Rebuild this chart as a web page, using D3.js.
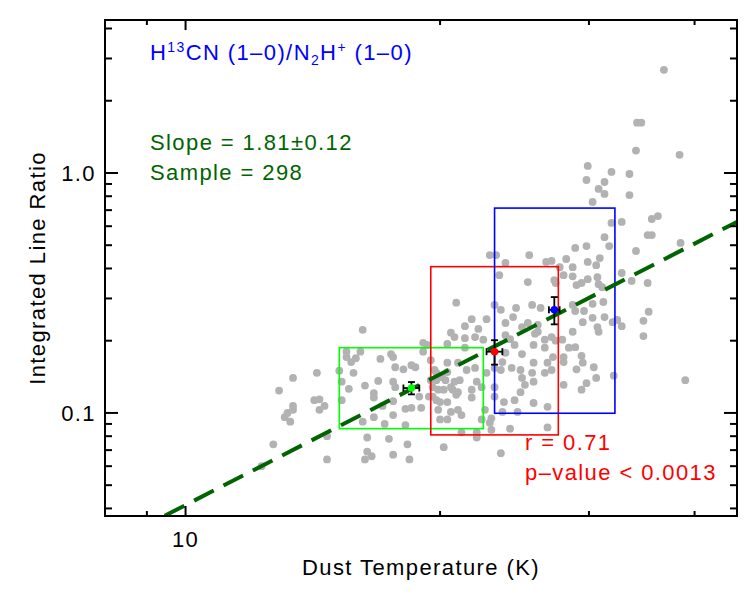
<!DOCTYPE html>
<html>
<head>
<meta charset="utf-8">
<script src="https://cdn.jsdelivr.net/npm/d3@7"></script>
<style>
  body { margin: 0; background: #fff; }
  text { font-family: "Liberation Sans", Arial, Helvetica, sans-serif; }
</style>
</head>
<body>
<div id="chart"></div>
<script>
// scatter sample: dust temperature (K) and H13CN/N2H+ integrated line ratio
var dustTemp = [
  12.3, 12.7, 12.9, 13.1, 13.2, 13.3, 13.4, 13.4, 13.4, 14.2, 14.4, 14.4, 14.6, 14.3, 14.7, 14.7,
  15.2, 15.3, 15.3, 15.5, 15.5, 15.7, 15.9, 16.1, 15.8, 15.6, 16.2, 16.3, 16.7, 16.7, 16.9, 17.0,
  17.5, 17.6, 17.7, 17.6, 17.7, 18.1, 18.5, 16.7, 16.2, 17.2, 17.6, 18.2, 17.1, 17.6, 18.2, 18.5,
  16.4, 17.4, 18.3, 16.4, 16.6, 16.3, 17.6, 18.4, 19.1, 19.3, 19.1, 18.7, 20.9, 21.8, 21.4, 22.2,
  22.7, 20.6, 20.8, 21.4, 20.4, 21.4, 22.0, 22.5, 20.4, 21.0, 20.4, 21.5, 22.0, 22.7, 19.8, 20.3,
  20.8, 21.1, 22.1, 19.6, 19.9, 20.2, 20.7, 21.0, 21.8, 22.4, 19.6, 19.8, 20.0, 20.4, 21.8, 23.2,
  23.2, 19.9, 20.6, 21.0, 22.6, 23.0, 22.4, 20.0, 20.4, 21.2, 22.1, 22.1, 23.0, 21.2, 20.2, 23.6,
  18.9, 19.0, 19.7, 19.5, 22.9, 23.3, 25.5, 23.9, 23.5, 25.4, 26.7, 27.1, 27.3, 27.4, 23.2, 23.6,
  24.6, 25.7, 26.3, 24.4, 23.9, 25.0, 26.1, 25.4, 26.1, 23.9, 24.2, 24.5, 25.9, 26.6, 27.1, 25.8,
  26.6, 25.0, 23.9, 23.7, 23.2, 23.6, 24.3, 24.9, 25.8, 26.8, 27.2, 26.6, 25.7, 25.0, 25.8, 27.1,
  23.8, 24.5, 24.9, 25.2, 24.7, 26.8, 26.8, 24.2, 27.7, 28.2, 28.7, 29.9, 30.6, 30.9, 28.0, 28.7,
  29.9, 30.7, 29.0, 29.4, 30.8, 31.1, 30.3, 31.2, 28.9, 29.6, 31.3, 29.5, 30.3, 32.0, 32.4, 32.8,
  30.7, 30.8, 28.7, 27.4, 27.9, 28.9, 28.4, 28.0, 28.0, 29.4, 29.5, 29.0, 30.4, 32.1, 30.6, 29.8,
  29.4, 28.0, 32.8, 33.7, 35.2, 35.3, 34.8, 34.8, 39.0, 34.1, 35.2, 35.6, 36.2, 35.6, 38.5, 32.8,
  31.9, 31.3, 31.7, 28.9, 29.8, 36.8, 34.2, 34.6, 34.1, 38.4, 29.9, 29.8, 31.9, 31.3, 33.5, 30.8,
  31.3, 33.5, 30.3, 28.7, 22.9, 23.7, 25.8, 19.8, 20.1, 20.6, 20.9, 19.4, 19.5
];
var lineRatio = [
  0.060, 0.074, 0.124, 0.096, 0.100, 0.092, 0.103, 0.107, 0.140, 0.113, 0.114, 0.103, 0.107, 0.147, 0.080, 0.064,
  0.150, 0.135, 0.113, 0.180, 0.171, 0.163, 0.169, 0.180, 0.147, 0.126, 0.222, 0.130, 0.121, 0.116, 0.136, 0.168,
  0.176, 0.171, 0.155, 0.135, 0.128, 0.152, 0.158, 0.096, 0.092, 0.090, 0.098, 0.089, 0.107, 0.112, 0.104, 0.105,
  0.079, 0.078, 0.074, 0.069, 0.066, 0.064, 0.067, 0.064, 0.196, 0.192, 0.180, 0.155, 0.288, 0.246, 0.230, 0.224,
  0.246, 0.216, 0.207, 0.205, 0.194, 0.187, 0.207, 0.202, 0.162, 0.162, 0.148, 0.151, 0.154, 0.147, 0.137, 0.137,
  0.135, 0.137, 0.135, 0.128, 0.125, 0.125, 0.125, 0.122, 0.125, 0.128, 0.117, 0.113, 0.111, 0.111, 0.116, 0.117,
  0.128, 0.103, 0.101, 0.103, 0.103, 0.095, 0.094, 0.094, 0.094, 0.098, 0.083, 0.079, 0.085, 0.083, 0.072, 0.068,
  0.117, 0.105, 0.151, 0.166, 0.455, 0.455, 0.455, 0.422, 0.375, 0.351, 0.426, 0.430, 0.358, 0.348, 0.282, 0.269,
  0.274, 0.282, 0.274, 0.251, 0.237, 0.228, 0.233, 0.237, 0.218, 0.211, 0.203, 0.192, 0.214, 0.202, 0.207, 0.192,
  0.187, 0.176, 0.178, 0.163, 0.154, 0.151, 0.154, 0.151, 0.162, 0.162, 0.171, 0.147, 0.147, 0.140, 0.135, 0.151,
  0.111, 0.113, 0.122, 0.131, 0.101, 0.106, 0.087, 0.086, 0.405, 0.438, 0.405, 0.426, 0.413, 0.442, 0.375, 0.371,
  0.361, 0.368, 0.341, 0.348, 0.344, 0.334, 0.285, 0.290, 0.266, 0.266, 0.251, 0.239, 0.249, 0.239, 0.244, 0.230,
  0.228, 0.218, 0.218, 0.200, 0.202, 0.188, 0.187, 0.171, 0.163, 0.173, 0.162, 0.152, 0.155, 0.143, 0.140, 0.133,
  0.125, 0.131, 0.383, 0.355, 0.348, 0.264, 0.242, 0.209, 0.137, 0.473, 0.551, 0.551, 0.661, 0.643, 0.511, 0.625,
  0.619, 0.540, 0.496, 0.487, 0.496, 2.69, 1.62, 1.62, 1.24, 1.19, 1.07, 0.935, 1.01, 0.917, 0.990, 0.858,
  0.818, 0.809, 0.757, 0.282, 0.091, 0.101, 0.110, 0.147, 0.141, 0.128, 0.119, 0.117, 0.137
];

// temperature bins: box extents and mean with errors
var binTempRange  = [[15.2, 22.5], [19.5, 27.6], [23.2, 32.2]];
var binRatioRange = [[0.086, 0.187], [0.081, 0.407], [0.0997, 0.714]];
var binMeanTemp   = [18.5, 23.2, 27.3];
var binMeanRatio  = [0.127, 0.180, 0.269];
var binTempErr    = [0.4, 0.5, 0.4];
var binRatioErr   = [0.0075, 0.021, 0.035];
var binColors     = ["#00ff00", "#ff0000", "#0000ff"];

// power-law fit line end points
var fitTemp  = [9.45, 45];
var fitRatio = [0.0373, 0.628];

var xMajorTicks = [10], xMinorTicks = [9, 20, 30, 40];
var xTickLabels = ["10"];
var yMajorTicks = [0.1, 1], yMinorTicks = [0.04, 0.05, 0.06, 0.07, 0.08, 0.09, 0.2, 0.3, 0.4, 0.5, 0.6, 0.7, 0.8, 0.9, 2, 3, 4];
var yTickLabels = ["0.1", "1.0"];

var margin = {top: 20, right: 13, bottom: 84, left: 105},
    width = 750 - margin.left - margin.right,
    height = 600 - margin.top - margin.bottom;

var svg = d3.select("#chart")
  .append("svg")
    .attr("width", 750)
    .attr("height", 600)
  .append("g")
    .attr("transform", "translate(" + margin.left + "," + margin.top + ")");

var x = d3.scaleLog().domain([8.03, 44.9]).range([0, width]);
var y = d3.scaleLog().domain([0.0372, 4.34]).range([height, 0]);

var fontSize = 22, spacing = 1.4;

svg.append("clipPath").attr("id", "plot-clip")
  .append("rect").attr("width", width).attr("height", height);

var plot = svg.append("g").attr("clip-path", "url(#plot-clip)");

// scatter
plot.selectAll(".dot")
    .data(dustTemp.map(function(t, i) { return [t, lineRatio[i]]; }))
  .enter().append("circle")
    .attr("class", "dot")
    .attr("cx", function(d) { return x(d[0]); })
    .attr("cy", function(d) { return y(d[1]); })
    .attr("r", 3.9)
    .attr("fill", "#b2b2b2");

// bin boxes
plot.selectAll(".box")
    .data(binTempRange)
  .enter().append("rect")
    .attr("class", "box")
    .attr("x", function(d) { return x(d[0]); })
    .attr("width", function(d) { return x(d[1]) - x(d[0]); })
    .attr("y", function(d, i) { return y(binRatioRange[i][1]); })
    .attr("height", function(d, i) { return y(binRatioRange[i][0]) - y(binRatioRange[i][1]); })
    .attr("fill", "none")
    .attr("stroke", function(d, i) { return binColors[i]; })
    .attr("stroke-width", 1.6);

// fit line
plot.append("line")
    .attr("x1", x(fitTemp[0])).attr("y1", y(fitRatio[0]))
    .attr("x2", x(fitTemp[1])).attr("y2", y(fitRatio[1]))
    .attr("stroke", "#006400")
    .attr("stroke-width", 4)
    .attr("stroke-dasharray", "22,11");

// bin means with error bars
var cap = 3.5;
binMeanTemp.forEach(function(t, i) {
  var cx = x(t), cy = y(binMeanRatio[i]);
  var x0 = x(t - binTempErr[i]), x1 = x(t + binTempErr[i]);
  var y0 = y(binMeanRatio[i] - binRatioErr[i]), y1 = y(binMeanRatio[i] + binRatioErr[i]);
  var g = plot.append("g").attr("stroke", "#000").attr("stroke-width", 1.8);
  g.append("line").attr("x1", x0).attr("x2", x1).attr("y1", cy).attr("y2", cy);
  g.append("line").attr("x1", x0).attr("x2", x0).attr("y1", cy - cap).attr("y2", cy + cap);
  g.append("line").attr("x1", x1).attr("x2", x1).attr("y1", cy - cap).attr("y2", cy + cap);
  g.append("line").attr("x1", cx).attr("x2", cx).attr("y1", y0).attr("y2", y1);
  g.append("line").attr("x1", cx - cap).attr("x2", cx + cap).attr("y1", y0).attr("y2", y0);
  g.append("line").attr("x1", cx - cap).attr("x2", cx + cap).attr("y1", y1).attr("y2", y1);
  plot.append("circle").attr("cx", cx).attr("cy", cy).attr("r", 3.8).attr("fill", binColors[i]);
});

// frame and ticks (inward on all four sides)
svg.append("rect")
    .attr("width", width).attr("height", height)
    .attr("fill", "none").attr("stroke", "#000").attr("stroke-width", 2);

function ticks(vals, len, cls) {
  var g = svg.append("g").attr("stroke", "#000").attr("stroke-width", 2);
  vals.forEach(function(v) {
    if (cls === "x") {
      g.append("line").attr("x1", x(v)).attr("x2", x(v)).attr("y1", height).attr("y2", height - len);
      g.append("line").attr("x1", x(v)).attr("x2", x(v)).attr("y1", 0).attr("y2", len);
    } else {
      g.append("line").attr("y1", y(v)).attr("y2", y(v)).attr("x1", 0).attr("x2", len);
      g.append("line").attr("y1", y(v)).attr("y2", y(v)).attr("x1", width).attr("x2", width - len);
    }
  });
}
ticks(xMajorTicks, 10, "x");
ticks(xMinorTicks, 5, "x");
ticks(yMajorTicks, 13, "y");
ticks(yMinorTicks, 7, "y");

function label(sel) {
  return sel.attr("font-size", fontSize).attr("letter-spacing", spacing);
}

label(svg.selectAll(".xlab").data(xMajorTicks).enter().append("text"))
    .attr("x", function(d) { return x(d); })
    .attr("y", height + 31)
    .attr("text-anchor", "middle")
    .text(function(d, i) { return xTickLabels[i]; });

label(svg.selectAll(".ylab").data(yMajorTicks).enter().append("text"))
    .attr("x", -9)
    .attr("y", function(d) { return y(d) + 8; })
    .attr("text-anchor", "end")
    .text(function(d, i) { return yTickLabels[i]; });

label(svg.append("text"))
    .attr("x", width / 2).attr("y", height + 59)
    .attr("text-anchor", "middle")
    .text("Dust Temperature (K)");

label(svg.append("text"))
    .attr("transform", "translate(-60," + (height / 2) + ") rotate(-90)")
    .attr("text-anchor", "middle")
    .text("Integrated Line Ratio");

// annotations
var title = label(svg.append("text")).attr("x", 45).attr("y", 40).attr("fill", "#0000ff");
title.append("tspan").text("H");
title.append("tspan").attr("font-size", 14).attr("dy", -8).text("13");
title.append("tspan").attr("dy", 8).text("CN (1\u20130)/N");
title.append("tspan").attr("font-size", 14).attr("dy", 5).text("2");
title.append("tspan").attr("dy", -5).text("H");
title.append("tspan").attr("font-size", 14).attr("dy", -8).text("+");
title.append("tspan").attr("dy", 8).text(" (1\u20130)");

label(svg.append("text")).attr("x", 45).attr("y", 130).attr("fill", "#006400")
    .text("Slope = 1.81\u00b10.12");
label(svg.append("text")).attr("x", 45).attr("y", 160).attr("fill", "#006400")
    .text("Sample = 298");

label(svg.append("text")).attr("x", 420).attr("y", 430).attr("fill", "#ff0000")
    .text("r = 0.71");
label(svg.append("text")).attr("x", 420).attr("y", 460).attr("fill", "#ff0000")
    .text("p\u2013value < 0.0013");
</script>
</body>
</html>
